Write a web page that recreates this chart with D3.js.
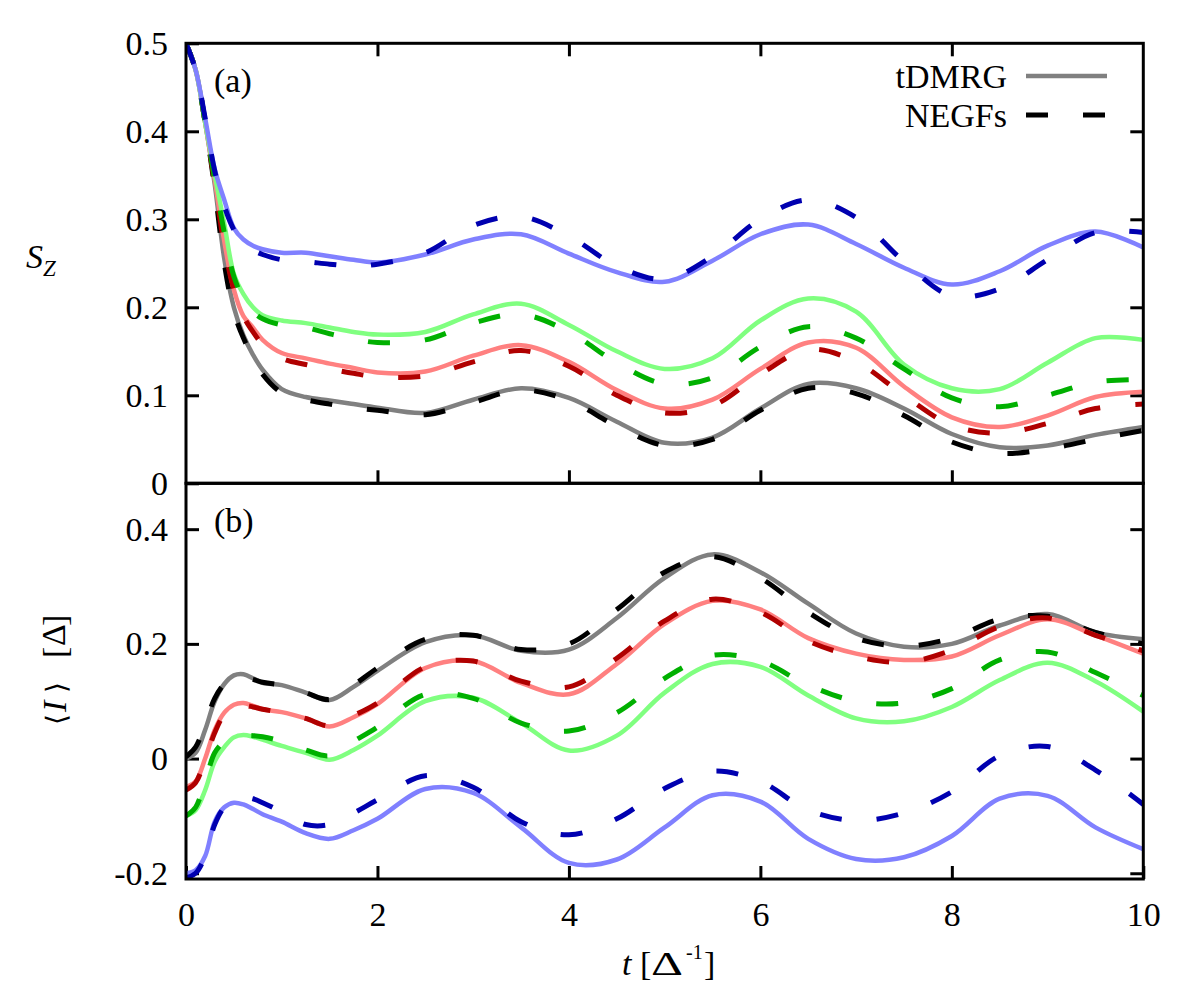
<!DOCTYPE html>
<html><head><meta charset="utf-8">
<script src="https://cdn.jsdelivr.net/npm/d3@7"></script>
<style>
body{margin:0;background:#fff}
svg{display:block}
text{font-family:"Liberation Serif","Times New Roman",serif;fill:#000}
</style>
</head><body>
<svg id="c" width="1200" height="1000"></svg>
<script>
// ---------- data ----------
const tGrid = [0,0.1,0.2,0.3,0.4,0.5,0.6,0.7,0.8,1.0,1.25,1.5,1.75,2,2.5,3,3.5,4,4.5,5,5.5,6,6.5,7,7.5,8,8.5,9,9.5,10];

// Panel (a): S_z
const szBlueDMRG  = [0.5,0.47,0.415,0.357,0.322,0.29,0.277,0.27,0.266,0.262,0.262,0.258,0.254,0.251,0.26,0.277,0.283,0.261,0.24,0.229,0.253,0.283,0.294,0.272,0.245,0.226,0.241,0.27,0.286,0.268];
const szBlueNEGF  = [0.5,0.47,0.415,0.355,0.315,0.288,0.272,0.265,0.26,0.254,0.252,0.249,0.247,0.249,0.262,0.293,0.303,0.281,0.247,0.232,0.258,0.3,0.322,0.302,0.252,0.213,0.221,0.254,0.285,0.285];
const szGreenDMRG = [0.5,0.47,0.41,0.35,0.295,0.238,0.215,0.2,0.191,0.185,0.182,0.177,0.172,0.169,0.172,0.192,0.204,0.18,0.15,0.13,0.142,0.185,0.21,0.195,0.135,0.108,0.107,0.137,0.165,0.163];
const szGreenNEGF = [0.5,0.47,0.41,0.345,0.285,0.235,0.21,0.195,0.187,0.18,0.177,0.17,0.164,0.16,0.163,0.182,0.192,0.172,0.137,0.113,0.12,0.155,0.178,0.165,0.13,0.097,0.087,0.1,0.115,0.118];
const szRedDMRG   = [0.5,0.47,0.41,0.345,0.275,0.22,0.19,0.177,0.163,0.148,0.142,0.136,0.131,0.126,0.127,0.145,0.157,0.138,0.106,0.085,0.095,0.13,0.16,0.154,0.11,0.075,0.064,0.077,0.098,0.104];
const szRedNEGF   = [0.5,0.47,0.41,0.34,0.27,0.22,0.19,0.172,0.158,0.142,0.135,0.13,0.125,0.121,0.122,0.138,0.151,0.133,0.1,0.08,0.088,0.124,0.152,0.138,0.1,0.066,0.057,0.068,0.085,0.09];
const szGrayDMRG  = [0.5,0.47,0.41,0.34,0.255,0.2,0.168,0.146,0.129,0.107,0.098,0.094,0.09,0.086,0.08,0.095,0.108,0.097,0.07,0.046,0.052,0.085,0.113,0.108,0.085,0.056,0.041,0.043,0.055,0.064];
const szBlackNEGF = [0.5,0.47,0.41,0.335,0.25,0.195,0.165,0.143,0.124,0.103,0.095,0.09,0.086,0.083,0.078,0.092,0.106,0.094,0.065,0.043,0.05,0.083,0.108,0.102,0.077,0.047,0.034,0.039,0.05,0.06];

// Panel (b): current <I>
const iGrayDMRG  = [0,0.01,0.05,0.1,0.13,0.145,0.147,0.14,0.132,0.128,0.115,0.102,0.125,0.153,0.203,0.215,0.188,0.19,0.245,0.315,0.356,0.325,0.27,0.218,0.195,0.2,0.232,0.252,0.22,0.208];
const iBlackNEGF = [0.003,0.02,0.06,0.105,0.13,0.14,0.142,0.138,0.133,0.128,0.115,0.103,0.128,0.158,0.208,0.215,0.19,0.2,0.26,0.325,0.352,0.315,0.255,0.21,0.196,0.21,0.243,0.248,0.22,0.2];
const iRedDMRG   = [-0.05,-0.04,0.0,0.05,0.08,0.094,0.097,0.092,0.086,0.081,0.07,0.056,0.072,0.095,0.158,0.17,0.132,0.112,0.165,0.235,0.275,0.26,0.21,0.183,0.172,0.178,0.215,0.243,0.215,0.183];
const iRedNEGF   = [-0.055,-0.042,-0.002,0.045,0.077,0.09,0.093,0.09,0.086,0.08,0.07,0.057,0.075,0.097,0.16,0.17,0.135,0.125,0.175,0.24,0.278,0.255,0.205,0.178,0.168,0.189,0.23,0.245,0.215,0.188];
const iGreenDMRG = [-0.1,-0.09,-0.055,-0.005,0.02,0.037,0.041,0.038,0.033,0.022,0.01,-0.002,0.015,0.04,0.1,0.106,0.062,0.014,0.04,0.115,0.165,0.16,0.11,0.07,0.065,0.09,0.137,0.167,0.135,0.082];
const iGreenNEGF = [-0.1,-0.085,-0.04,0.01,0.03,0.038,0.04,0.04,0.038,0.03,0.015,0.005,0.03,0.055,0.112,0.105,0.062,0.048,0.08,0.14,0.18,0.17,0.128,0.1,0.097,0.122,0.172,0.186,0.15,0.11];
const iBlueDMRG  = [-0.2,-0.195,-0.17,-0.11,-0.085,-0.077,-0.08,-0.088,-0.097,-0.11,-0.13,-0.14,-0.125,-0.105,-0.053,-0.06,-0.12,-0.182,-0.176,-0.12,-0.064,-0.075,-0.14,-0.175,-0.172,-0.135,-0.07,-0.065,-0.12,-0.158];
const iBlueNEGF  = [-0.208,-0.2,-0.17,-0.115,-0.085,-0.074,-0.068,-0.07,-0.077,-0.093,-0.115,-0.115,-0.095,-0.072,-0.03,-0.05,-0.11,-0.133,-0.105,-0.052,-0.022,-0.04,-0.09,-0.108,-0.095,-0.058,0.005,0.021,-0.02,-0.08];

const xTicks = [0,2,4,6,8,10];
const yTicksA = [0,0.1,0.2,0.3,0.4,0.5];
const yTicksB = [-0.2,0,0.2,0.4];
const legendLabels = ["tDMRG","NEGFs"];

// ---------- setup ----------
const svg = d3.select('#c');
const L = 186, R = 1143.3, TA = 43.3, MID = 483.3, BB = 879;
const x = d3.scaleLinear().domain([0,10]).range([L,R]);
const yA = d3.scaleLinear().domain([0,0.5]).range([MID,TA]);
const yB = d3.scaleLinear().domain([-0.21,0.48]).range([BB,MID]);

const defs = svg.append('defs');
defs.append('clipPath').attr('id','clipA').append('rect').attr('x',L).attr('y',TA).attr('width',R-L).attr('height',MID-TA);
defs.append('clipPath').attr('id','clipB').append('rect').attr('x',L).attr('y',MID).attr('width',R-L).attr('height',BB-MID);

const fmt = d => d === 0 ? '0' : d.toFixed(1);
const FS = 34;

function styleAxis(g){
  g.select('.domain').remove();
  g.attr('font-family','"Liberation Serif","Times New Roman",serif').attr('font-size',FS);
  g.selectAll('.tick line').attr('stroke','#000').attr('stroke-width',3);
  g.selectAll('.tick text').attr('fill','#000');
}

// ---------- panel A axes ----------
svg.append('g').attr('transform',`translate(${L},0)`)
  .call(d3.axisLeft(yA).tickValues(yTicksA).tickSize(-13).tickPadding(18).tickFormat(fmt)).call(styleAxis);
svg.append('g').attr('transform',`translate(${R},0)`)
  .call(d3.axisRight(yA).tickValues(yTicksA.slice(1,-1)).tickSize(-13).tickFormat('')).call(styleAxis);
svg.append('g').attr('transform',`translate(0,${MID})`)
  .call(d3.axisBottom(x).tickValues(xTicks.slice(1,-1)).tickSize(-13).tickFormat('')).call(styleAxis);
svg.append('g').attr('transform',`translate(0,${TA})`)
  .call(d3.axisTop(x).tickValues(xTicks.slice(1,-1)).tickSize(-13).tickFormat('')).call(styleAxis);

// ---------- panel B axes ----------
svg.append('g').attr('transform',`translate(${L},0)`)
  .call(d3.axisLeft(yB).tickValues(yTicksB).tickSize(-13).tickPadding(18).tickFormat(fmt)).call(styleAxis);
svg.append('g').attr('transform',`translate(${R},0)`)
  .call(d3.axisRight(yB).tickValues(yTicksB).tickSize(-13).tickFormat('')).call(styleAxis);
svg.append('g').attr('transform',`translate(0,${BB})`)
  .call(d3.axisBottom(x).tickValues(xTicks).tickSize(-13).tickPadding(23).tickFormat(d3.format('d'))).call(styleAxis);

// ---------- curves ----------
const pairs = (vals) => tGrid.map((t,i)=>[t,vals[i]]);
function drawCurves(gClip, yScale, list){
  const line = d3.line().x(d=>x(d[0])).y(d=>yScale(d[1])).curve(d3.curveCatmullRom.alpha(0.5));
  list.forEach(s => {
    const p = gClip.append('path').datum(pairs(s.v)).attr('d',line)
      .attr('fill','none').attr('stroke',s.c).attr('stroke-width',s.dash?5:4.5)
      .attr('stroke-linejoin','round');
    if (s.dash) p.attr('stroke-dasharray','22,35');
  });
}
const gA = svg.append('g').attr('clip-path','url(#clipA)');
drawCurves(gA, yA, [
  {v:szGrayDMRG,c:'#808080'},{v:szBlackNEGF,c:'#000000',dash:true},
  {v:szRedDMRG,c:'#ff8080'},{v:szRedNEGF,c:'#b00000',dash:true},
  {v:szGreenDMRG,c:'#80ff80'},{v:szGreenNEGF,c:'#00b000',dash:true},
  {v:szBlueDMRG,c:'#8080ff'},{v:szBlueNEGF,c:'#0000b0',dash:true}
]);
const gB = svg.append('g').attr('clip-path','url(#clipB)');
drawCurves(gB, yB, [
  {v:iGrayDMRG,c:'#808080'},{v:iBlackNEGF,c:'#000000',dash:true},
  {v:iRedDMRG,c:'#ff8080'},{v:iRedNEGF,c:'#b00000',dash:true},
  {v:iGreenDMRG,c:'#80ff80'},{v:iGreenNEGF,c:'#00b000',dash:true},
  {v:iBlueDMRG,c:'#8080ff'},{v:iBlueNEGF,c:'#0000b0',dash:true}
]);

// ---------- frames ----------
svg.append('rect').attr('x',L).attr('y',TA).attr('width',R-L).attr('height',MID-TA)
  .attr('fill','none').attr('stroke','#000').attr('stroke-width',3);
svg.append('rect').attr('x',L).attr('y',MID).attr('width',R-L).attr('height',BB-MID)
  .attr('fill','none').attr('stroke','#000').attr('stroke-width',3);

// ---------- legend ----------
svg.append('text').attr('x',1007).attr('y',88).attr('text-anchor','end').attr('font-size',FS).text(legendLabels[0]);
svg.append('line').attr('x1',1026).attr('x2',1107).attr('y1',76).attr('y2',76).attr('stroke','#808080').attr('stroke-width',4.5);
svg.append('text').attr('x',1007).attr('y',127).attr('text-anchor','end').attr('font-size',FS).text(legendLabels[1]);
svg.append('line').attr('x1',1026).attr('x2',1107).attr('y1',115).attr('y2',115).attr('stroke','#000').attr('stroke-width',5).attr('stroke-dasharray','22,35');

// ---------- panel labels ----------
svg.append('text').attr('x',214).attr('y',92).attr('font-size',FS).text('(a)');
svg.append('text').attr('x',214).attr('y',532).attr('font-size',FS).text('(b)');

// ---------- y label A: S_Z ----------
const sz = svg.append('text').attr('x',26).attr('y',268).attr('font-size',FS);
sz.append('tspan').attr('font-style','italic').text('S');
sz.append('tspan').attr('font-style','italic').attr('font-size',23).attr('dy',8).text('Z');

// ---------- y label B: <I> [Δ] ----------
const gl = svg.append('g').attr('transform','translate(66,725) rotate(-90)');
gl.append('text').attr('x',0).attr('y',0).attr('font-family','DejaVu Serif').attr('font-size',28).text('\u27E8');
gl.append('text').attr('x',13).attr('y',0).attr('font-size',FS).attr('font-style','italic').text('I');
gl.append('text').attr('x',32).attr('y',0).attr('font-family','DejaVu Serif').attr('font-size',28).text('\u27E9');
gl.append('text').attr('x',67).attr('y',0).attr('font-size',FS).text('[');
gl.append('text').attr('x',79).attr('y',-1).attr('font-size',FS).text('\u0394');
gl.append('text').attr('x',99).attr('y',0).attr('font-size',FS).text(']');

// ---------- x label: t [Δ^-1] ----------
svg.append('text').attr('x',622).attr('y',975).attr('font-size',FS).attr('font-style','italic').text('t');
svg.append('text').attr('x',640).attr('y',975).attr('font-size',FS).text('[');
svg.append('text').attr('x',651).attr('y',975).attr('font-size',34).attr('font-family','Liberation Sans')
  .attr('textLength',32).attr('lengthAdjust','spacingAndGlyphs').text('\u0394');
svg.append('text').attr('x',686).attr('y',959).attr('font-size',20).attr('font-family','Liberation Sans').text('-1');
svg.append('text').attr('x',704).attr('y',975).attr('font-size',FS).text(']');
</script>
</body></html>
